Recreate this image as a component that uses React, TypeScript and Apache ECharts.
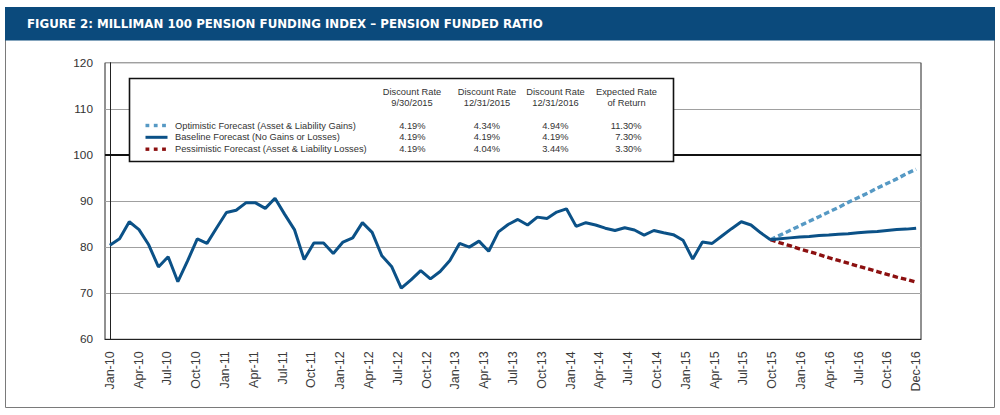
import React, { useEffect, useRef } from "react";
import * as echarts from "echarts";

const TITLE = "FIGURE 2: MILLIMAN 100 PENSION FUNDING INDEX – PENSION FUNDED RATIO";

const TICK_LABELS = [
  "Jan-10", "Apr-10", "Jul-10", "Oct-10", "Jan-11", "Apr-11", "Jul-11", "Oct-11",
  "Jan-12", "Apr-12", "Jul-12", "Oct-12", "Jan-13", "Apr-13", "Jul-13", "Oct-13",
  "Jan-14", "Apr-14", "Jul-14", "Oct-14", "Jan-15", "Apr-15", "Jul-15", "Oct-15",
  "Jan-16", "Apr-16", "Jul-16", "Oct-16", "Dec-16",
];

// Monthly funded ratio (%), history
const HISTORY = [
  80.4, 81.8, 85.5, 83.8, 80.5, 75.7, 77.9, 72.5, 77.0, 81.8, 80.8, 84.2,
  87.5, 88.0, 89.6, 89.6, 88.4, 90.6, 87.1, 83.8, 77.3, 80.9, 80.9, 78.6,
  81.1, 82.0, 85.3, 83.2, 78.1, 75.8, 71.1, 72.9, 74.9, 73.1, 74.7, 77.1,
  80.8, 80.0, 81.3, 79.1, 83.3, 84.9, 86.0, 84.8, 86.5, 86.2, 87.6, 88.3,
  84.5, 85.3, 84.8, 84.1, 83.6, 84.2, 83.7, 82.6, 83.6, 83.1, 82.7, 81.5,
  77.4, 81.1, 80.8, 82.4, 84.0, 85.5, 84.8, 83.1, 81.6,
];

// Forecasts starting at the last history point
const OPTIMISTIC = [81.6, 82.6, 83.6, 84.6, 85.6, 86.6, 87.6, 88.6, 89.7, 90.7, 91.7, 92.8, 93.8, 94.8, 95.9, 96.9];
const BASELINE = [81.6, 81.8, 82.0, 82.2, 82.3, 82.5, 82.6, 82.8, 82.9, 83.1, 83.3, 83.4, 83.6, 83.8, 83.9, 84.1];
const PESSIMISTIC = [81.6, 80.9, 80.3, 79.6, 79.0, 78.4, 77.7, 77.1, 76.5, 75.9, 75.3, 74.7, 74.1, 73.5, 73.0, 72.4];

const SCENARIOS = [
  "Optimistic Forecast (Asset & Liability Gains)",
  "Baseline Forecast (No Gains or Losses)",
  "Pessimistic Forecast (Asset & Liability Losses)",
];
const HEAD_1 = ["Discount Rate", "Discount Rate", "Discount Rate", "Expected Rate"];
const HEAD_2 = ["9/30/2015", "12/31/2015", "12/31/2016", "of Return"];
const RATES = [
  ["4.19%", "4.34%", "4.94%", "11.30%"],
  ["4.19%", "4.19%", "4.19%", "7.30%"],
  ["4.19%", "4.04%", "3.44%", "3.30%"],
];

const FONT = "'Liberation Sans', Arial, Helvetica, sans-serif";
const TITLE_FONT = "'DejaVu Sans', Verdana, sans-serif";
const NAVY = "#0b5187";
const LIGHT = "#5699c4";
const RED = "#8c1010";

export default function App() {
  const ref = useRef<HTMLDivElement>(null);

  useEffect(() => {
    if (!ref.current) return;
    const chart = echarts.init(ref.current, undefined, { renderer: "svg" });

    const start = HISTORY.length - 1;
    const lastIndex = start + BASELINE.length - 1;
    const tickValues = TICK_LABELS.map((_, i) => (i * lastIndex) / (TICK_LABELS.length - 1));
    const toPairs = (arr: number[], off: number) => arr.map((v, i) => [off + i, v]);

    const headX = [412, 487, 555.5, 626.5];
    const numX = [425.5, 500, 568.5, 641.5];
    const rowY = [125.5, 137.3, 149.2];

    const graphics: any[] = [
      {
        type: "rect",
        z: 0,
        shape: { x: 5.5, y: 7.5, width: 989, height: 400 },
        style: { fill: "none", stroke: "#7a7a7a", lineWidth: 1 },
      },
      {
        type: "rect",
        z: 1,
        shape: { x: 5, y: 7, width: 990, height: 33.5 },
        style: { fill: "#0b4a7c" },
      },
      {
        type: "text",
        z: 2,
        x: 27,
        y: 24,
        style: {
          text: TITLE,
          fill: "#ffffff",
          font: `bold 11.8px ${TITLE_FONT}`,
          textAlign: "left",
          textVerticalAlign: "middle",
        },
      },
      {
        type: "rect",
        z: 100,
        shape: { x: 129.5, y: 78.5, width: 544, height: 83 },
        style: { fill: "#ffffff", stroke: "#111111", lineWidth: 1.6 },
      },
    ];

    HEAD_1.forEach((t, i) => {
      graphics.push({
        type: "text", z: 101, x: headX[i], y: 91.7,
        style: { text: t, fill: "#333", font: `9.3px ${FONT}`, textAlign: "center", textVerticalAlign: "middle" },
      });
      graphics.push({
        type: "text", z: 101, x: headX[i], y: 103.3,
        style: { text: HEAD_2[i], fill: "#333", font: `9.3px ${FONT}`, textAlign: "center", textVerticalAlign: "middle" },
      });
    });

    SCENARIOS.forEach((s, r) => {
      graphics.push({
        type: "text", z: 101, x: 175, y: rowY[r],
        style: { text: s, fill: "#333", font: `9.3px ${FONT}`, textAlign: "left", textVerticalAlign: "middle" },
      });
      RATES[r].forEach((v, c) => {
        graphics.push({
          type: "text", z: 101, x: numX[c], y: rowY[r],
          style: { text: v, fill: "#333", font: `9.3px ${FONT}`, textAlign: "right", textVerticalAlign: "middle" },
        });
      });
    });

    // legend symbols
    const sqColors = [LIGHT, null, RED];
    [0, 2].forEach((r) => {
      [0, 1, 2].forEach((k) => {
        graphics.push({
          type: "rect", z: 101,
          shape: { x: 145.5 + k * 8.3, y: rowY[r] - 1.7, width: 3.8, height: 3.4 },
          style: { fill: sqColors[r] as string },
        });
      });
    });
    graphics.push({
      type: "line", z: 101,
      shape: { x1: 145.5, y1: rowY[1], x2: 167.5, y2: rowY[1] },
      style: { stroke: NAVY, lineWidth: 3 },
    });

    chart.setOption({
      animation: false,
      backgroundColor: "#ffffff",
      textStyle: { fontFamily: FONT },
      grid: {
        left: 105,
        right: 79,
        top: 62.7,
        bottom: 75.7,
        show: true,
        borderColor: "#222222",
        borderWidth: 1,
        backgroundColor: "transparent",
      },
      xAxis: {
        type: "value",
        min: -0.5,
        max: lastIndex + 0.5,
        axisLine: { show: true, onZero: false, lineStyle: { color: "#222", width: 1 } },
        axisTick: { show: false },
        splitLine: { show: false },
        axisLabel: {
          customValues: tickValues,
          rotate: 90,
          margin: 12,
          color: "#3a3a3a",
          fontSize: 12.5,
          fontFamily: FONT,
          formatter: (v: number) =>
            TICK_LABELS[Math.round((v * (TICK_LABELS.length - 1)) / lastIndex)] ?? "",
        },
      },
      yAxis: {
        type: "value",
        min: 60,
        max: 120,
        interval: 10,
        axisLine: { show: true, lineStyle: { color: "#222", width: 1 } },
        axisTick: { show: false },
        axisLabel: { color: "#333", fontSize: 11.8, margin: 12, fontFamily: FONT },
        splitLine: { show: true, lineStyle: { color: "#a0a0a0", width: 1 } },
      },
      series: [
        {
          name: "History",
          type: "line",
          data: toPairs(HISTORY, 0),
          showSymbol: false,
          symbol: "none",
          lineStyle: { color: NAVY, width: 3 },
          z: 5,
          markLine: {
            silent: true,
            symbol: "none",
            label: { show: false },
            lineStyle: { color: "#111", width: 2, type: "solid" },
            data: [{ yAxis: 100 }],
          },
        },
        {
          name: "Optimistic Forecast (Asset & Liability Gains)",
          type: "line",
          data: toPairs(OPTIMISTIC, start),
          symbol: "none",
          lineStyle: { color: LIGHT, width: 3.4, type: [5.5, 3], cap: "butt" },
          z: 4,
        },
        {
          name: "Baseline Forecast (No Gains or Losses)",
          type: "line",
          data: toPairs(BASELINE, start),
          symbol: "none",
          lineStyle: { color: NAVY, width: 3 },
          z: 6,
        },
        {
          name: "Pessimistic Forecast (Asset & Liability Losses)",
          type: "line",
          data: toPairs(PESSIMISTIC, start),
          symbol: "none",
          lineStyle: { color: RED, width: 3.4, type: [5.5, 3], cap: "butt" },
          z: 4,
        },
      ],
      graphic: { elements: graphics },
    });

    return () => chart.dispose();
  }, []);

  return (
    <div
      ref={ref}
      style={{ position: "fixed", left: 0, top: 0, width: 1000, height: 415, background: "#fff" }}
    />
  );
}
